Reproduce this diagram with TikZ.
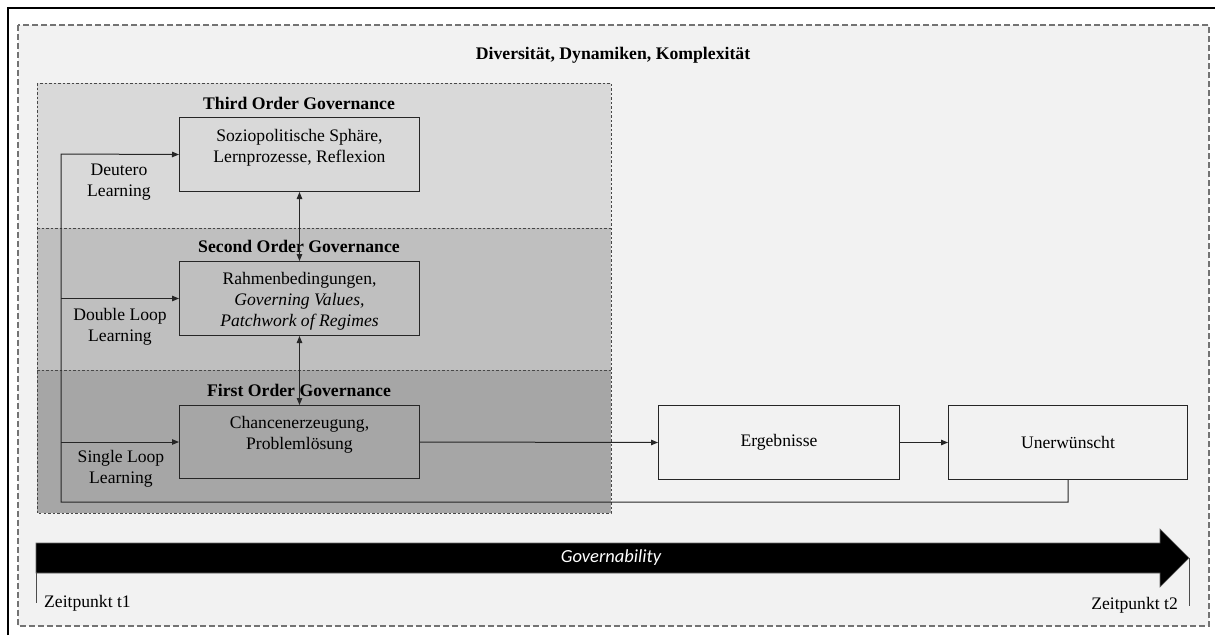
\documentclass[tikz,border=0pt]{standalone}
\usepackage{fontspec}
\setmainfont{Liberation Serif}
\newfontfamily\diagfont{Liberation Serif}
\newfontfamily\govfont{Carlito}
\usetikzlibrary{arrows.meta,positioning}

\definecolor{bgfill}{HTML}{F2F2F2}
\definecolor{thirdfill}{HTML}{D9D9D9}
\definecolor{secondfill}{HTML}{BFBFBF}
\definecolor{firstfill}{HTML}{A6A6A6}
\definecolor{edge}{HTML}{262626}

\begin{document}
\begin{tikzpicture}[x=1pt,y=-1pt,
  every node/.style={font=\diagfont\fontsize{17.6}{21.2}\selectfont, inner sep=0pt},
  band/.style={draw=edge!85, dash pattern=on 2.5pt off 2pt, line width=0.9pt},
  box/.style={draw=edge, line width=1pt, anchor=north west,
              minimum width=240pt, minimum height=74pt},
  boxtext/.style={align=center},
  bandtitle/.style={font=\diagfont\fontsize{17.7}{21.2}\selectfont\bfseries},
  link/.style={draw=edge, line width=1pt},
  tip/.style={-{Triangle[length=7pt,width=5.5pt]}},
  twotip/.style={{Triangle[length=7pt,width=5.5pt]}-{Triangle[length=7pt,width=5.5pt]}},
  tick/.style={draw=black!70, line width=1pt},
]
\useasboundingbox (0,0) rectangle (1215,635);

% outer frame (top and left edges) and dashed canvas
\draw[line width=2.5pt] (8,635) -- (8,8) -- (1215,8);
\draw[fill=bgfill, draw=black!55, dash pattern=on 6pt off 3pt, line width=1.3pt]
  (18,25) rectangle (1209,626);

\node (topic) at (613,55) [bandtitle] {Diversität, Dynamiken, Komplexität};

% governance bands
\fill[thirdfill]  (37,83)  rectangle (611,228);
\fill[secondfill] (37,228) rectangle (611,370);
\fill[firstfill]  (37,370) rectangle (611,513);
\draw[band] (37,83) rectangle (611,513);
\draw[band] (37,228) -- (611,228);
\draw[band] (37,370) -- (611,370);

\node (t3) at (299,103) [bandtitle] {Third Order Governance};
\node (t2) at (299,246) [bandtitle] {Second Order Governance};
\node (t1) at (299,390) [bandtitle] {First Order Governance};

% governance boxes
\node (s3) at (179,117) [box] {};
\node (s2) at (179,261) [box] {};
\node (s1) at (179,405) [box, minimum height=73pt] {};
\node (s3t) [boxtext, below=12pt of s3.north] {Soziopolitische Sphäre,\\Lernprozesse, Reflexion};
\node (s2t) [boxtext, below=11pt of s2.north] {Rahmenbedingungen,\\\textit{Governing Values,}\\\textit{Patchwork of Regimes}};
\node (s1t) [boxtext, below=11pt of s1.north] {Chancenerzeugung,\\Problemlösung};

% outcome boxes
\node (erg) at (658,405) [box, minimum width=241pt] {};
\node (une) at (948,405) [box, minimum width=239pt] {};
\node (ergt) at (erg.center) {Ergebnisse};
\node (unet) at (une.center) {Unerwünscht};

% learning labels
\node (l3) at (119,182) [boxtext] {Deutero\\Learning};
\node (l2) at (120,327) [boxtext] {Double Loop\\Learning};
\node (l1) at (121,469) [boxtext] {Single Loop\\Learning};

% connectors
\draw[link, twotip] (s3.south) -- (s2.north);
\draw[link, twotip] (s2.south) -- (s1.north);
\draw[link, tip] (s1.east) -- (erg.west);
\draw[link, tip] (erg.east) -- (une.west);

% feedback loop
\coordinate (loopL) at (61,502);
\coordinate (loopT) at (61,154);
\draw[link, tip] (une.south) |- (loopL) -- (loopT) -- (s3.west);
\draw[link, tip] (loopT |- s2.west) -- (s2.west);
\draw[link, tip] (loopT |- s1.west) -- (s1.west);

% governability time arrow
\fill[black, draw=black!60, line width=0.6pt]
  (36,543) -- (1160,543) -- (1160,529) -- (1189,558) -- (1160,587)
  -- (1160,573) -- (36,573) -- cycle;
\node (gov) at (611,558) [text=white, font=\govfont\fontsize{18.5}{22}\selectfont\itshape] {Governability};

\coordinate (tA) at (36,573);
\coordinate (tA2) at (36,603);
\coordinate (tB) at (1189,558);
\coordinate (tB2) at (1189,606);
\draw[tick] (tA) -- (tA2);
\draw[tick] (tB) -- (tB2);
\node (z1) at (44,603) [anchor=west] {Zeitpunkt t1};
\node (z2) at (1178,605) [anchor=east] {Zeitpunkt t2};
\end{tikzpicture}
\end{document}
